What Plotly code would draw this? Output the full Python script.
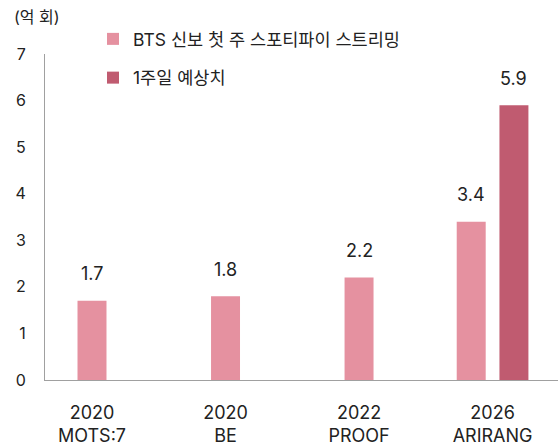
import plotly.graph_objects as go

# ---- data ----
categories = ["2020<br>MOTS:7", "2020<br>BE", "2022<br>PROOF", "2026<br>ARIRANG"]
first_week_streams = [1.7, 1.8, 2.2, 3.4]
forecast_category = ["2026<br>ARIRANG"]
forecast_values = [5.9]
series_names = ["BTS 신보 첫 주 스포티파이 스트리밍", "1주일 예상치"]
y_ticks = [0, 1, 2, 3, 4, 5, 6, 7]
unit_label = "(억 회)"

# ---- style ----
PINK = "#E591A0"
DARK = "#C05B70"
FONT = "Inter, 'Noto Sans CJK KR', sans-serif"
TXT = "#222222"
BAR_W = 0.217
PAIR_OFF = 0.16
W, H = 558, 445
ML, MR, MT, MB = 45, 0, 54, 65
PW, PH = W - ML - MR, H - MT - MB

pink_offsets = [-BAR_W / 2] * (len(categories) - 1) + [-PAIR_OFF - BAR_W / 2]
dark_offsets = [PAIR_OFF - BAR_W / 2]

fig = go.Figure()
fig.add_trace(go.Bar(
    x=categories, y=first_week_streams, name=series_names[0],
    marker=dict(color=PINK, line=dict(width=0)),
    width=BAR_W, offset=pink_offsets, legendgroup="a",
))
fig.add_trace(go.Bar(
    x=forecast_category, y=forecast_values, name=series_names[1],
    marker=dict(color=DARK, line=dict(width=0)),
    width=BAR_W, offset=dark_offsets, legendgroup="b",
))

# value labels
annotations = []
for i, (c, v) in enumerate(zip(categories, first_week_streams)):
    xpos = i + pink_offsets[i] + BAR_W / 2
    annotations.append(dict(x=xpos, y=v, xref="x", yref="y", text=f"{v:.1f}",
                            showarrow=False, yanchor="middle", yshift=27,
                            font=dict(size=18, color=TXT, family=FONT)))
for c, v, off in zip(forecast_category, forecast_values, dark_offsets):
    xpos = categories.index(c) + off + BAR_W / 2
    annotations.append(dict(x=xpos, y=v, xref="x", yref="y", text=f"{v:.1f}",
                            showarrow=False, yanchor="middle", yshift=27,
                            font=dict(size=18, color=TXT, family=FONT)))
annotations.append(dict(x=(12 - ML) / PW, y=1 + (MT - 17) / PH, xref="paper", yref="paper",
                        text=unit_label, showarrow=False, xanchor="left",
                        yanchor="middle", font=dict(size=16, color=TXT, family=FONT)))

fig.update_layout(
    width=W, height=H,
    margin=dict(l=ML, r=MR, t=MT, b=MB, autoexpand=False),
    paper_bgcolor="white", plot_bgcolor="white",
    font=dict(family=FONT, color=TXT),
    barmode="overlay",
    showlegend=True,
    legend=dict(x=93 / W, y=1 - 21 / H, xref="container", yref="container",
                xanchor="left", yanchor="top",
                orientation="v", traceorder="grouped", tracegroupgap=13,
                font=dict(size=17.5, color=TXT, family=FONT),
                bgcolor="rgba(0,0,0,0)", itemwidth=30),
    annotations=annotations,
)
fig.update_xaxes(
    type="category", categoryorder="array", categoryarray=categories,
    range=[-0.352, 3.49], automargin=False,
    showline=True, linecolor="#A0A0A0", linewidth=1,
    showgrid=False, zeroline=False, ticks="",
    tickfont=dict(size=18, color=TXT, family=FONT),
    ticklabelstandoff=16,
)
fig.update_yaxes(
    range=[0, 7], tickvals=y_ticks, automargin=False,
    showline=True, linecolor="#A0A0A0", linewidth=1,
    showgrid=False, zeroline=False, ticks="",
    tickfont=dict(size=16, color=TXT, family=FONT),
    ticklabelstandoff=15,
)

fig.write_html("out.html", config={"displayModeBar": False},
               post_script="document.body.style.margin='0';")
